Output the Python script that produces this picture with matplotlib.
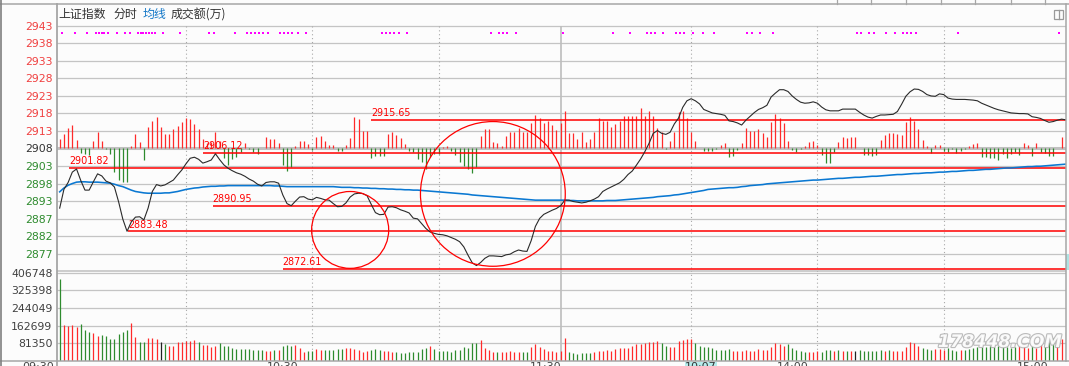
import matplotlib.pyplot as plt
from matplotlib.lines import Line2D
from matplotlib.patches import Ellipse, Rectangle
import matplotlib.patheffects as pe

# ---- data -------------------------------------------------------------
minutes = list(range(240))

price = [
    2890.2, 2895.6, 2897.6, 2900.6, 2901.5, 2898.2, 2895.4, 2895.4, 2897.8, 2900.1,
    2899.5, 2898.0, 2897.5, 2896.3, 2892.0, 2887.0, 2883.5, 2886.2, 2887.6, 2887.7,
    2886.8, 2890.2, 2895.0, 2897.0, 2896.6, 2896.9, 2897.6, 2898.3, 2899.8, 2901.2,
    2903.0, 2904.6, 2904.9, 2904.3, 2903.2, 2903.6, 2904.1, 2905.9, 2904.2, 2902.7,
    2901.7, 2901.0, 2900.4, 2900.0, 2899.4, 2898.6, 2898.0, 2897.1, 2896.6, 2897.6,
    2897.8, 2897.8, 2897.4, 2894.0, 2891.5, 2890.9, 2892.2, 2893.4, 2893.5, 2892.8,
    2892.6, 2893.3, 2893.0, 2892.6, 2892.5, 2891.5, 2890.6, 2890.7, 2891.7, 2893.4,
    2894.3, 2894.5, 2894.4, 2893.8, 2891.3, 2888.9, 2888.3, 2888.4, 2890.5, 2890.6,
    2890.3, 2889.7, 2889.3, 2888.8, 2887.3, 2887.1, 2885.7, 2884.3, 2883.3, 2882.9,
    2882.6, 2882.5, 2882.2, 2881.7, 2881.2, 2880.5, 2879.0, 2876.6, 2874.4, 2873.6,
    2874.5, 2875.7, 2876.4, 2876.4, 2876.3, 2876.2, 2876.7, 2876.9, 2877.6, 2878.1,
    2877.8, 2877.7, 2880.8, 2884.9, 2887.2, 2888.4, 2889.0, 2889.6, 2890.1, 2890.9,
    2892.5, 2892.5, 2892.1, 2891.9, 2891.7, 2891.9, 2892.3, 2892.8, 2893.5, 2895.0,
    2895.7, 2896.3, 2896.9, 2897.5, 2898.5, 2899.9, 2900.9, 2902.6, 2904.4, 2906.5,
    2908.9, 2911.8, 2912.6, 2911.8, 2911.5, 2912.1, 2914.5, 2916.2, 2919.3, 2921.2,
    2921.8, 2921.2, 2920.3, 2918.7, 2918.2, 2917.7, 2917.5, 2917.3, 2917.0, 2915.4,
    2915.2, 2914.8, 2914.2, 2915.6, 2916.7, 2917.8, 2918.7, 2919.2, 2919.9, 2922.3,
    2923.4, 2924.4, 2924.4, 2923.9, 2922.6, 2921.6, 2920.8, 2920.5, 2920.6, 2920.9,
    2920.5, 2919.4, 2918.6, 2918.3, 2918.3, 2918.3, 2918.8, 2918.8, 2918.8, 2918.8,
    2917.9, 2917.1, 2916.5, 2916.2, 2916.7, 2917.1, 2917.1, 2917.2, 2917.3, 2918.1,
    2920.2, 2922.5, 2923.8, 2924.6, 2924.5, 2923.9, 2923.0, 2922.6, 2922.5, 2923.2,
    2923.0, 2922.0, 2921.7, 2921.6, 2921.6, 2921.6, 2921.5, 2921.4, 2921.2, 2920.5,
    2920.0, 2919.5, 2919.0, 2918.6, 2918.3, 2918.0, 2917.7, 2917.6, 2917.5, 2917.5,
    2917.4, 2916.6, 2916.4, 2916.1, 2915.5, 2915.0, 2915.2, 2915.6, 2915.9, 2915.7,
]

avg_price = [
    2894.9, 2896.0, 2896.8, 2897.3, 2897.7, 2897.8, 2897.8, 2897.7, 2897.7, 2897.7,
    2897.6, 2897.5, 2897.4, 2897.1, 2896.7, 2896.4, 2895.9, 2895.4, 2895.0, 2894.8,
    2894.6, 2894.5, 2894.5, 2894.5, 2894.5, 2894.6, 2894.6, 2894.8, 2895.0, 2895.3,
    2895.6, 2895.8, 2896.0, 2896.1, 2896.3, 2896.4, 2896.5, 2896.5, 2896.6, 2896.6,
    2896.7, 2896.7, 2896.7, 2896.7, 2896.7, 2896.7, 2896.7, 2896.7, 2896.7, 2896.7,
    2896.7, 2896.6, 2896.6, 2896.5, 2896.4, 2896.4, 2896.4, 2896.4, 2896.4, 2896.4,
    2896.4, 2896.4, 2896.4, 2896.4, 2896.4, 2896.4, 2896.3, 2896.2, 2896.2, 2896.2,
    2896.1, 2896.1, 2896.0, 2896.0, 2895.9, 2895.9, 2895.8, 2895.8, 2895.7, 2895.7,
    2895.6, 2895.6, 2895.5, 2895.5, 2895.4, 2895.4, 2895.3, 2895.2, 2895.1, 2895.0,
    2894.9, 2894.8, 2894.7, 2894.6, 2894.5, 2894.4, 2894.3, 2894.2, 2894.0, 2893.9,
    2893.8, 2893.7, 2893.6, 2893.5, 2893.4, 2893.3, 2893.2, 2893.1, 2893.0, 2892.9,
    2892.8, 2892.7, 2892.6, 2892.5, 2892.5, 2892.5, 2892.5, 2892.5, 2892.5, 2892.5,
    2892.5, 2892.4, 2892.4, 2892.3, 2892.3, 2892.3, 2892.3, 2892.3, 2892.3, 2892.3,
    2892.4, 2892.4, 2892.4, 2892.5, 2892.6, 2892.7, 2892.8, 2892.9, 2893.0, 2893.1,
    2893.2, 2893.3, 2893.5, 2893.6, 2893.7, 2893.8, 2894.0, 2894.1, 2894.3, 2894.5,
    2894.7, 2894.9, 2895.1, 2895.3, 2895.6, 2895.7, 2895.8, 2895.9, 2896.0, 2896.1,
    2896.1, 2896.2, 2896.4, 2896.5, 2896.7, 2896.8, 2896.9, 2897.0, 2897.2, 2897.3,
    2897.4, 2897.5, 2897.6, 2897.7, 2897.8, 2897.9, 2898.0, 2898.1, 2898.2, 2898.3,
    2898.3, 2898.4, 2898.5, 2898.6, 2898.7, 2898.8, 2898.8, 2898.9, 2899.0, 2899.1,
    2899.1, 2899.2, 2899.3, 2899.4, 2899.4, 2899.5, 2899.6, 2899.7, 2899.8, 2899.9,
    2899.9, 2900.0, 2900.1, 2900.2, 2900.2, 2900.3, 2900.4, 2900.4, 2900.5, 2900.6,
    2900.6, 2900.7, 2900.8, 2900.8, 2900.9, 2901.0, 2901.1, 2901.1, 2901.2, 2901.3,
    2901.4, 2901.4, 2901.5, 2901.6, 2901.7, 2901.8, 2901.8, 2901.9, 2902.0, 2902.1,
    2902.2, 2902.2, 2902.3, 2902.3, 2902.4, 2902.5, 2902.6, 2902.7, 2902.8, 2902.9,
]

# buy/sell strength bars drawn around the previous close
flow = [
    9, 14, 20, 23, 8, -5, -6, -7, 7, 16,
    7, -1, -6, -24, -32, -34, -34, 2, 14, 6,
    -12, 21, 28, 32, 21, 14, 14, 19, 22, 27,
    31, 30, 24, 19, 9, 5, 6, 16, 7, -10,
    -17, -11, -9, -4, 5, -1, -4, -6, 0, 11,
    9, 9, 5, -17, -23, -19, 2, 7, 7, 4,
    -2, 11, 12, 7, 3, 3, -3, -3, 3, 10,
    32, 30, 17, 17, -10, -8, -8, -8, 14, 16,
    13, 10, 4, -3, -4, -11, -14, -21, -9, -6,
    -6, 1, 2, -3, -7, -14, -18, -21, -25, -19,
    12, 19, 19, 6, 5, 2, 12, 16, 16, 20,
    16, 16, 25, 34, 31, 25, 28, 23, 18, 26,
    38, 15, 15, 9, 16, 6, 9, 16, 31, 28,
    28, 21, 24, 28, 33, 33, 33, 33, 41, 33,
    38, 33, 20, 16, -1, 7, 16, 37, 38, 31,
    16, 7, 0, -3, -3, -3, -1, 3, 5, -9,
    -8, -2, 5, 20, 17, 17, 19, 15, 11, 27,
    35, 31, 26, 7, -2, -4, -1, 2, 6, 7,
    3, -7, -15, -15, -4, 6, 11, 10, 11, 11,
    0, -7, -7, -8, -7, 8, 13, 15, 15, 14,
    13, 27, 32, 28, 19, 8, 2, -5, 3, 3,
    -3, -4, -1, -5, -3, -1, 2, 4, 5, -9,
    -9, -10, -10, -12, -6, -10, -6, -4, -7, 5,
    3, -8, 5, -4, -5, -8, -8, 0, 11, -2,
]

volume = [
    377500, 164900, 160200, 164900, 155600, 169500, 141700, 132500, 127900, 114000,
    118600, 114000, 100100, 100100, 123300, 134000, 141700, 174100, 109400, 86300,
    86300, 104800, 104800, 100100, 86300, 77000, 67800, 67800, 86300, 86300,
    92400, 89400, 95500, 86300, 72400, 72400, 63200, 67800, 81700, 67800,
    67800, 58500, 53900, 53900, 53900, 53900, 49300, 49300, 49300, 44700,
    44700, 49300, 49300, 67800, 72400, 67800, 72400, 58500, 40100, 44700,
    44700, 53900, 49300, 49300, 49300, 49300, 53900, 53900, 58500, 58500,
    53900, 49300, 40100, 44700, 49300, 53900, 49300, 44700, 44700, 40100,
    40100, 35400, 35400, 40100, 40100, 40100, 53900, 58500, 67800, 53900,
    44700, 44700, 44700, 40100, 49300, 49300, 63200, 58500, 81700, 81700,
    95500, 58500, 49300, 40100, 40100, 40100, 40100, 44700, 40100, 40100,
    40100, 40100, 63200, 77000, 63200, 53900, 44700, 44700, 40100, 44700,
    104800, 40100, 35400, 30800, 35400, 35400, 35400, 40100, 44700, 44700,
    49300, 44700, 53900, 58500, 58500, 58500, 67800, 77000, 77000, 81700,
    86300, 86300, 90900, 81700, 67800, 63200, 63200, 90900, 95500, 100100,
    100100, 81700, 67800, 65000, 63200, 58500, 49300, 49300, 49300, 53900,
    44700, 44700, 44700, 49300, 44700, 44700, 53900, 49300, 49300, 63200,
    81700, 77000, 67800, 77000, 58500, 49300, 44700, 40100, 40100, 40100,
    44700, 40100, 49300, 49300, 44700, 49300, 44700, 44700, 44700, 44700,
    49300, 44700, 44700, 44700, 44700, 49300, 44700, 49300, 44700, 44700,
    44700, 63200, 86300, 80100, 67800, 58500, 53900, 49300, 53900, 53900,
    49300, 58500, 49300, 44700, 49300, 49300, 53900, 58500, 61600, 61600,
    64700, 67800, 64700, 67800, 67800, 61600, 58500, 61600, 67800, 67800,
    57000, 67800, 57000, 80100, 77000, 86300, 104800, 100100, 100100, 134000,
]

# + up, - down, = unchanged
vol_dir = (
    "-++++---++" "-------++-" "-+++=-++++" "+++-++++--" "---------+"
    "+-+---+++-" "-++-----++" "++++---+++" "--------+-" "----------"
    "++++-+++++" "--++++++++" "+------+++" "++++++++++" "+++--+++++"
    "+---------" "++++++++++" "+++-----++" "+---+-+-+=" "------+-++"
    "+++++---++" "+---+-----" "--------++" "+-++---++-"
)

dot_minutes = [
    0.6, 3.6, 6.5, 8.7, 9.3, 10.0, 10.6, 11.4, 13.5, 15.5, 16.6, 18.6, 19.2,
    19.9, 20.5, 21.2, 21.9, 22.6, 24.5, 28.6, 35.5, 36.6, 41.6, 44.5, 45.4,
    46.4, 47.3, 48.3, 49.5, 52.4, 53.3, 54.3, 55.2, 56.5, 58.4, 76.5, 77.4,
    78.4, 79.3, 80.6, 82.6, 102.4, 104.3, 105.3, 106.2, 108.3, 119.5, 131.4,
    135.4, 139.4, 140.4, 141.4, 143.3, 146.4, 147.4, 148.3, 150.5, 152.9,
    155.4, 163.3, 164.4, 166.3, 169.4, 189.4, 190.4, 192.3, 193.4, 196.3,
    198.4, 200.3, 201.3, 202.2, 203.4, 213.3, 237.4,
]
dot_level = 2940.7

prev_close = 2907.42
grid_step = 5.075
price_labels = ["2877", "2882", "2887", "2893", "2898", "2903", "2908",
                "2913", "2918", "2923", "2928", "2933", "2938", "2943"]
vol_ticks = [81350, 162699, 244049, 325398, 406748]

levels = [2915.65, 2906.12, 2901.82, 2890.95, 2883.48, 2872.61]
level_start = [74.0, 34.1, 2.3, 36.3, 16.2, 53.0]

# circles: centre minute, centre price, width (min), height (pts)
circles = [(69.0, 2883.9, 18.3, 22.2), (102.9, 2894.3, 34.4, 41.8)]

time_labels = ["09:30", "10:30", "11:30", "14:00", "15:00"]
time_label_px = [38, 283, 546, 793, 1033]

# ---- figure ------------------------------------------------------------
W, H = 1069, 366
BG = "#fcfcfc"
RED = "#ff2a2a"
GREEN = "#2e8b2e"
GRID = "#c4c4c4"
FLOW_SCALE = 1 / 3.462

fig = plt.figure(figsize=(W / 100, H / 100), dpi=100, facecolor=BG)


def fx(x):
    return x / W


def fy(y):
    return 1 - y / H


ax = fig.add_axes([fx(57), fy(271.5), (1066 - 57) / W, (271.5 - 4) / H], facecolor=BG)
axv = fig.add_axes([fx(57), fy(360.7), (1066 - 57) / W, (360.7 - 271.5) / H], facecolor=BG)

for a in (ax, axv):
    a.set_xlim(-0.64, 239.05)
    for s in a.spines.values():
        s.set_visible(False)
    a.set_xticks([])
    a.tick_params(axis="y", length=0, pad=3.3)

ax.set_ylim(2871.89, 2949.16)
axv.set_ylim(0, 412300)

# price grid
grid_vals = [prev_close + k * grid_step for k in range(-6, 8)]
ax.set_yticks(grid_vals, price_labels, fontsize=7.8)
for v, lab in zip(grid_vals, ax.get_yticklabels()):
    if abs(v - prev_close) < 0.01:
        lab.set_color("#333333")
    elif v > prev_close:
        lab.set_color("#f04040")
    else:
        lab.set_color(GREEN)
for v in grid_vals:
    if abs(v - prev_close) < 0.01:
        ax.axhline(v, color="#c0c0c0", lw=2.2, zorder=1)
    else:
        ax.axhline(v, color=GRID, lw=0.9, zorder=1)

axv.set_yticks(vol_ticks, [str(t) for t in vol_ticks], fontsize=7.8, color="#404040")
for t in vol_ticks:
    axv.axhline(t, color=GRID, lw=0.9, zorder=1)
ax.axhline(2871.95, color=GRID, lw=1.2, zorder=1)

# time separators
top_grid = grid_vals[-1]
for m in [30, 60, 90, 150, 180, 210]:
    ax.vlines(m, 2871.89, top_grid, color="#a8a8a8", lw=0.8, linestyles=(0, (1, 2.5)), zorder=1)
    axv.axvline(m, color="#a8a8a8", lw=0.8, linestyle=(0, (1, 2.5)), zorder=1)
ax.vlines(119.1, 2871.89, top_grid, color="#bdbdbd", lw=1.2, zorder=1)
axv.axvline(119.1, color="#bdbdbd", lw=1.2, zorder=1)

# flow bars
flow_colors = [RED if f > 0 else GREEN for f in flow]
ax.vlines(minutes, prev_close, [prev_close + f * FLOW_SCALE for f in flow],
          colors=flow_colors, lw=0.9, zorder=2)

# volume bars
dir_color = {"+": RED, "-": GREEN, "=": "#222222"}
axv.vlines(minutes, 0, volume, colors=[dir_color[d] for d in vol_dir], lw=0.9, zorder=2)

# marked levels
for v, s in zip(levels, level_start):
    ax.hlines(v, s, 239.05, color="#ff0000", lw=1.1, zorder=3)
    ax.annotate(f"{v:.2f}", (s, v), xytext=(0, 1.2), textcoords="offset points",
                ha="left", va="bottom", fontsize=6.9, color="#ff0000", zorder=4)

# average and price lines
ax.plot(minutes, avg_price, color="#0a78d2", lw=1.15, zorder=4)
ax.plot(minutes, price, color="#2a2a2a", lw=0.8, zorder=5)

for cx, cy, w, h in circles:
    ax.add_patch(Ellipse((cx, cy), w, h, fill=False, ec="#ff0000", lw=0.9, zorder=6))

# event dots
ax.scatter(dot_minutes, [dot_level] * len(dot_minutes), marker="s", s=2.2,
           color="#ff00ff", lw=0, zorder=3)

# ---- frame & header decorations -----------------------------------------
frame = "#a6a6a6"
fig.add_artist(Line2D([0, 1], [fy(4.3), fy(4.3)], color=frame, lw=1.1))
fig.add_artist(Line2D([0, 1], [fy(360.9), fy(360.9)], color=frame, lw=1.1))
fig.add_artist(Line2D([fx(56.6), fx(56.6)], [fy(4.3), 0], color=frame, lw=1.3))
fig.add_artist(Line2D([fx(1066), fx(1066)], [fy(4.3), fy(360.9)], color=frame, lw=1.1))
fig.add_artist(Line2D([fx(0.6), fx(0.6)], [0, 1], color="#808080", lw=1.2))
for tx in [836.7, 870.7, 905.7, 940.7, 975.3, 1010.7, 1045.3]:
    fig.add_artist(Line2D([fx(tx), fx(tx)], [1, fy(4.3)], color=frame, lw=0.9))

fig.add_artist(Rectangle((fx(1053.5), fy(19)), 9.5 / W, 9.5 / H, fill=False,
                         ec="#9a9a9a", lw=0.9))
fig.add_artist(Line2D([fx(1058.5), fx(1058.5)], [fy(19), fy(9.5)], color="#9a9a9a", lw=0.9))
fig.add_artist(Rectangle((fx(1065.6), fy(270)), 3.4 / W, 16 / H, color="#aee4e4", lw=0))

cjk = ["Noto Sans CJK SC", "DejaVu Sans"]
header = [(58, "上证指数", "#333333"), (114, "分时", "#333333"),
          (143, "均线", "#1478c8"), (171, "成交额(万)", "#333333")]
for x, s, c in header:
    fig.text(fx(x), fy(14.5), s, family=cjk, fontsize=8.6, color=c, ha="left", va="center")

# time axis labels sit mostly below the picture edge, as in the screenshot
for x, s in zip(time_label_px, time_labels):
    fig.text(fx(x), fy(362.5), s, fontsize=8, color="#444444", ha="center", va="top")
fig.add_artist(Rectangle((fx(685), 0), 32 / W, fy(361.5), color="#b6ecec", lw=0))
fig.text(fx(701), fy(362.5), "10:07", fontsize=8, color="#333333", ha="center", va="top")

fig.text(fx(1000), fy(342), "178448.COM", fontsize=12.5, color="white", weight="bold",
         style="italic", ha="center", va="center", alpha=0.9,
         path_effects=[pe.withStroke(linewidth=1.6, foreground="#b4b4b4")])

fig.savefig("out.png", dpi=100, facecolor=BG)
